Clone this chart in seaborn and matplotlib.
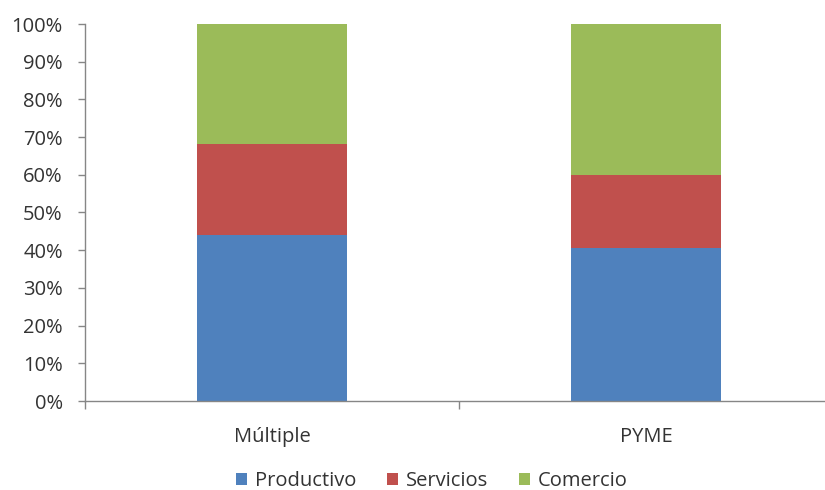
import matplotlib
matplotlib.use("Agg")
import matplotlib.pyplot as plt
import seaborn as sns
import numpy as np
from matplotlib.ticker import FixedLocator, PercentFormatter
from matplotlib.patches import Patch

categories = ["Múltiple", "PYME"]
productivo = [44.0, 40.7]
servicios = [24.2, 19.2]
comercio = [31.8, 40.1]
series_names = ["Productivo", "Servicios", "Comercio"]
colors = ["#4F81BD", "#C0504D", "#9BBB59"]

sns.set_theme(style="white")
plt.rcParams["font.family"] = ["Open Sans", "DejaVu Sans"]

fig = plt.figure(figsize=(8.25, 4.9), dpi=100)
ax = fig.add_axes([85 / 825, 1 - 401 / 490, (833 - 85) / 825, (401 - 24) / 490])

bottom = np.zeros(len(categories))
for name, vals, col in zip(series_names, [productivo, servicios, comercio], colors):
    sns.barplot(x=categories, y=vals, bottom=bottom, color=col, width=0.4,
                ax=ax, label=name, saturation=1, linewidth=0)
    bottom = bottom + np.array(vals)

ax.set_xlim(-0.5, 1.5)
ax.set_ylim(0, 100)
ax.yaxis.set_major_locator(FixedLocator(np.arange(0, 101, 10)))
ax.yaxis.set_major_formatter(PercentFormatter(decimals=0))

for s in ["top", "right"]:
    ax.spines[s].set_visible(False)
for s in ["left", "bottom"]:
    ax.spines[s].set_color("#868686")
    ax.spines[s].set_linewidth(1)

fs = 14.5
ax.tick_params(axis="y", which="major", left=True, length=5, width=1,
               color="#868686", labelsize=fs, labelcolor="#333333", pad=11)
ax.tick_params(axis="x", which="major", bottom=False, labelsize=fs,
               labelcolor="#333333", pad=13)
ax.xaxis.set_minor_locator(FixedLocator([-0.5, 0.5, 1.5]))
ax.tick_params(axis="x", which="minor", bottom=True, length=6, width=1,
               color="#868686")
ax.set_xlabel("")
ax.set_ylabel("")

handles = [Patch(facecolor=c, edgecolor="none") for c in colors]
fig.legend(handles, series_names, loc="center", bbox_to_anchor=(432 / 825, 1 - 481 / 490),
           ncol=3, frameon=False, fontsize=fs, handlelength=0.55, handleheight=0.55,
           handletextpad=0.4, columnspacing=1.5, labelcolor="#333333")
if ax.get_legend() is not None:
    ax.get_legend().remove()

fig.savefig("out.png", dpi=100)
